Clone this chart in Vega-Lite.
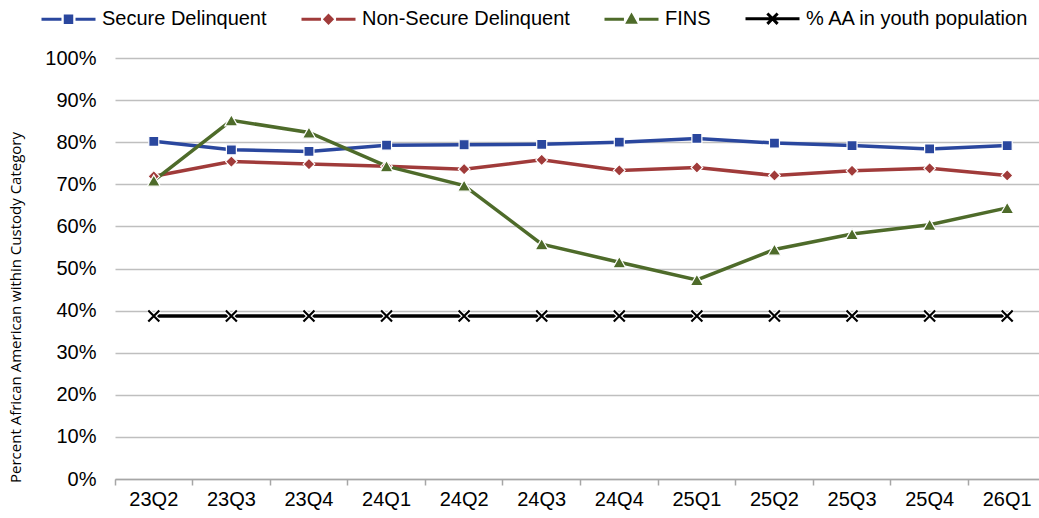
{
  "$schema": "https://vega.github.io/schema/vega-lite/v6.json",
  "autosize": "none",
  "width": 924,
  "height": 421,
  "padding": {"left": 115, "top": 58, "right": 0, "bottom": 39},
  "background": "white",
  "config": {"view": {"stroke": null}},
  "data": {"values": [
    {"q": "23Q2", "series": "Secure Delinquent", "v": 80.2},
    {"q": "23Q3", "series": "Secure Delinquent", "v": 78.2},
    {"q": "23Q4", "series": "Secure Delinquent", "v": 77.8},
    {"q": "24Q1", "series": "Secure Delinquent", "v": 79.3},
    {"q": "24Q2", "series": "Secure Delinquent", "v": 79.4},
    {"q": "24Q3", "series": "Secure Delinquent", "v": 79.5},
    {"q": "24Q4", "series": "Secure Delinquent", "v": 80.0},
    {"q": "25Q1", "series": "Secure Delinquent", "v": 80.9},
    {"q": "25Q2", "series": "Secure Delinquent", "v": 79.8},
    {"q": "25Q3", "series": "Secure Delinquent", "v": 79.2},
    {"q": "25Q4", "series": "Secure Delinquent", "v": 78.4},
    {"q": "26Q1", "series": "Secure Delinquent", "v": 79.2},
    {"q": "23Q2", "series": "Non-Secure Delinquent", "v": 71.9},
    {"q": "23Q3", "series": "Non-Secure Delinquent", "v": 75.4},
    {"q": "23Q4", "series": "Non-Secure Delinquent", "v": 74.8},
    {"q": "24Q1", "series": "Non-Secure Delinquent", "v": 74.3},
    {"q": "24Q2", "series": "Non-Secure Delinquent", "v": 73.6},
    {"q": "24Q3", "series": "Non-Secure Delinquent", "v": 75.8},
    {"q": "24Q4", "series": "Non-Secure Delinquent", "v": 73.3},
    {"q": "25Q1", "series": "Non-Secure Delinquent", "v": 74.0},
    {"q": "25Q2", "series": "Non-Secure Delinquent", "v": 72.1},
    {"q": "25Q3", "series": "Non-Secure Delinquent", "v": 73.2},
    {"q": "25Q4", "series": "Non-Secure Delinquent", "v": 73.8},
    {"q": "26Q1", "series": "Non-Secure Delinquent", "v": 72.1},
    {"q": "23Q2", "series": "FINS", "v": 70.9},
    {"q": "23Q3", "series": "FINS", "v": 85.2},
    {"q": "23Q4", "series": "FINS", "v": 82.3},
    {"q": "24Q1", "series": "FINS", "v": 74.3},
    {"q": "24Q2", "series": "FINS", "v": 69.7},
    {"q": "24Q3", "series": "FINS", "v": 55.8},
    {"q": "24Q4", "series": "FINS", "v": 51.5},
    {"q": "25Q1", "series": "FINS", "v": 47.3},
    {"q": "25Q2", "series": "FINS", "v": 54.5},
    {"q": "25Q3", "series": "FINS", "v": 58.2},
    {"q": "25Q4", "series": "FINS", "v": 60.4},
    {"q": "26Q1", "series": "FINS", "v": 64.4},
    {"q": "23Q2", "series": "% AA in youth population", "v": 38.7},
    {"q": "23Q3", "series": "% AA in youth population", "v": 38.7},
    {"q": "23Q4", "series": "% AA in youth population", "v": 38.7},
    {"q": "24Q1", "series": "% AA in youth population", "v": 38.7},
    {"q": "24Q2", "series": "% AA in youth population", "v": 38.7},
    {"q": "24Q3", "series": "% AA in youth population", "v": 38.7},
    {"q": "24Q4", "series": "% AA in youth population", "v": 38.7},
    {"q": "25Q1", "series": "% AA in youth population", "v": 38.7},
    {"q": "25Q2", "series": "% AA in youth population", "v": 38.7},
    {"q": "25Q3", "series": "% AA in youth population", "v": 38.7},
    {"q": "25Q4", "series": "% AA in youth population", "v": 38.7},
    {"q": "26Q1", "series": "% AA in youth population", "v": 38.7}
  ]},
  "encoding": {
    "x": {
      "field": "q", "type": "ordinal", "sort": null,
      "scale": {"type": "band", "paddingInner": 0, "paddingOuter": 0, "range": [0, 931]},
      "axis": {
        "title": null, "grid": false, "bandPosition": 0,
        "labelAngle": 0, "labelFont": "Liberation Sans", "labelFontSize": 20, "labelColor": "#000000",
        "labelPadding": 4, "tickSize": 6, "tickColor": "#A6A6A6", "tickWidth": 1.5,
        "domainColor": "#A6A6A6", "domainWidth": 1.5
      }
    },
    "y": {
      "field": "v", "type": "quantitative",
      "scale": {"domain": [0, 100], "nice": false},
      "axis": {
        "values": [0, 10, 20, 30, 40, 50, 60, 70, 80, 90, 100],
        "labelExpr": "datum.value + '%'",
        "domain": false, "ticks": false, "grid": true, "gridColor": "#BFBFBF", "gridWidth": 1.5,
        "labelFont": "Liberation Sans", "labelFontSize": 20, "labelColor": "#000000", "labelPadding": 19,
        "title": "Percent African American within Custody Category",
        "titleFont": "Open Sans", "titleFontSize": 15, "titleFontWeight": "normal", "titleColor": "#000000",
        "titleX": -100, "titleY": 249, "titleAngle": 270, "titleAlign": "center", "titleBaseline": "middle"
      }
    }
  },
  "layer": [
    {
      "mark": {"type": "line", "strokeWidth": 3.5, "strokeCap": "butt"},
      "encoding": {
        "color": {
          "field": "series", "type": "nominal",
          "scale": {
            "domain": ["Secure Delinquent", "Non-Secure Delinquent", "FINS", "% AA in youth population"],
            "range": ["#2A479E", "#A03B3A", "#4E6B2A", "#000000"]
          },
          "legend": {
            "title": null, "orient": "none", "direction": "horizontal", "legendX": -75, "legendY": -68,
            "padding": 0, "columnPadding": 28, "labelOffset": 5, "labelLimit": 0,
            "labelFont": "Liberation Sans", "labelFontSize": 20, "labelColor": "#000000",
            "symbolSize": 2916, "symbolStrokeWidth": 3,
            "encode": {
              "symbols": {
                "update": {
                  "shape": {"signal": "datum.value == 'Secure Delinquent' ? 'M-1,0H-0.26M0.26,0H1M-0.12,-0.12H0.12V0.12H-0.12Z' : datum.value == 'Non-Secure Delinquent' ? 'M-1,0H-0.28M0.28,0H1M-0.13,0L0,-0.13L0.13,0L0,0.13Z' : datum.value == 'FINS' ? 'M-1,0H-0.28M0.28,0H1M0,-0.14L0.14,0.11L-0.14,0.11Z' : 'M-1,0H1M-0.19,-0.19L0.19,0.19M-0.19,0.19L0.19,-0.19'"},
                  "fill": {"signal": "scale('color', datum.value)"},
                  "stroke": {"signal": "scale('color', datum.value)"},
                  "strokeWidth": {"value": 3},
                  "size": {"value": 2916},
                  "opacity": {"value": 1}
                }
              }
            }
          }
        }
      }
    },
    {
      "transform": [{"filter": "datum.series == '% AA in youth population'"}],
      "mark": {"type": "point", "shape": "M-1,-1L1,1M-1,1L1,-1", "size": 121, "filled": false, "stroke": "#FFFFFF", "strokeWidth": 4.5, "opacity": 1}
    },
    {
      "transform": [{"filter": "datum.series == '% AA in youth population'"}],
      "mark": {"type": "point", "shape": "M-1,-1L1,1M-1,1L1,-1", "size": 121, "filled": false, "stroke": "#000000", "strokeWidth": 2.2, "opacity": 1}
    },
    {
      "transform": [{"filter": "datum.series != '% AA in youth population'"}],
      "mark": {"type": "point", "filled": true, "stroke": "#FFFFFF", "strokeWidth": 1.2, "opacity": 1},
      "encoding": {
        "color": {"field": "series", "type": "nominal"},
        "shape": {
          "field": "series", "type": "nominal", "legend": null,
          "scale": {"domain": ["Secure Delinquent", "Non-Secure Delinquent", "FINS"], "range": ["square", "diamond", "triangle-up"]}
        },
        "size": {
          "field": "series", "type": "nominal", "legend": null,
          "scale": {"domain": ["Secure Delinquent", "Non-Secure Delinquent", "FINS"], "range": [100, 170, 170]}
        }
      }
    }
  ]
}
